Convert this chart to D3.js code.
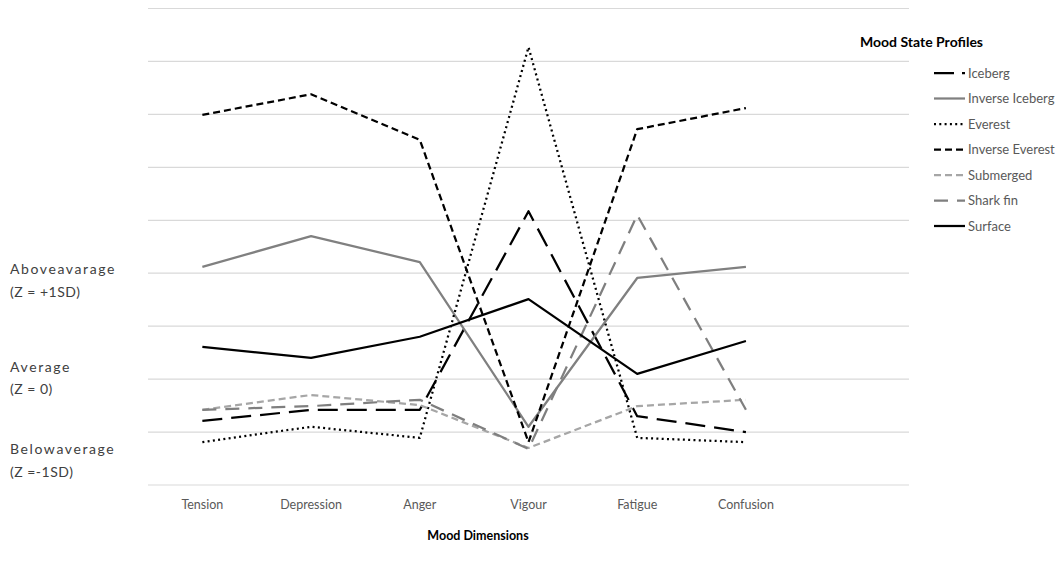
<!DOCTYPE html>
<html>
<head>
<meta charset="utf-8">
<script src="https://cdnjs.cloudflare.com/ajax/libs/d3/7.8.5/d3.min.js"></script>
<style>
  body { margin: 0; background: #fff; }
  text { font-family: Lato, "Open Sans", sans-serif; }
</style>
</head>
<body>
<div id="vis-container"></div>
<script>
// mood dimensions (7th band is left empty, like in the original)
categories = ["Tension", "Depression", "Anger", "Vigour", "Fatigue", "Confusion"]
profileNames = ["Iceberg", "Inverse Iceberg", "Everest", "Inverse Everest", "Submerged", "Shark fin", "Surface"]

// values in gridline units
iceberg        = [1.21, 1.42, 1.42, 5.17, 1.30, 1.00]
inverseIceberg = [4.12, 4.70, 4.21, 1.10, 3.91, 4.12]
everest        = [0.81, 1.10, 0.89, 8.27, 0.89, 0.81]
inverseEverest = [6.99, 7.38, 6.52, 0.81, 6.72, 7.12]
submerged      = [1.42, 1.70, 1.51, 0.70, 1.49, 1.61]
sharkFin       = [1.42, 1.49, 1.61, 0.68, 5.10, 1.42]
surface        = [2.61, 2.40, 2.80, 3.51, 2.10, 2.72]

yLabels = [
  {value: 3.98, lines: ["Aboveavarage", "(Z = +1SD)"]},
  {value: 2.14, lines: ["Average", "(Z = 0)"]},
  {value: 0.58, lines: ["Belowaverage", "(Z =-1SD)"]}
]

chart = {
  "width": 1063, "height": 567,
  "margin": {"top": 8.5, "bottom": 82, "left": 148, "right": 154}
}

styles = [
  {color: "#000000", dash: "20,9"},
  {color: "#808080", dash: null},
  {color: "#000000", dash: "2,3.3"},
  {color: "#000000", dash: "7,4"},
  {color: "#a6a6a6", dash: "7,4"},
  {color: "#7f7f7f", dash: "14,9"},
  {color: "#000000", dash: null}
]

series = [iceberg, inverseIceberg, everest, inverseEverest, submerged, sharkFin, surface]

svg = d3.select("#vis-container").append("svg").attr("width", chart.width).attr("height", chart.height)

let x = d3.scaleBand().domain(categories.concat(["_blank"])).range([chart.margin.left, chart.width - chart.margin.right])
let y = d3.scaleLinear().domain([0, 9]).range([chart.height - chart.margin.bottom, chart.margin.top])

// gridlines
svg.append("g").selectAll("line")
  .data(y.ticks(9))
  .enter()
  .append("line")
  .attr("x1", x.range()[0]).attr("x2", x.range()[1])
  .attr("y1", d => y(d)).attr("y2", d => y(d))
  .attr("stroke", "#d9d9d9")
  .attr("stroke-width", 1.2);

// category labels
svg.append("g").selectAll("text")
  .data(categories)
  .enter()
  .append("text")
  .attr("x", d => x(d) + x.bandwidth() / 2)
  .attr("y", 509)
  .attr("text-anchor", "middle")
  .attr("fill", "#595959")
  .style("font-size", "12.5px")
  .text(d => d);

svg.append("text")
  .attr("x", 478).attr("y", 540)
  .attr("text-anchor", "middle")
  .style("font-size", "12.5px").style("font-weight", "bold")
  .attr("fill", "#000")
  .text("Mood Dimensions");

// left labels
yLabels.forEach(function(l){
  let t = svg.append("text").attr("x", 10).attr("y", y(l.value)).attr("fill", "#404040").style("font-size", "14px");
  l.lines.forEach(function(s, i){
    t.append("tspan").attr("x", 10).attr("dy", i == 0 ? 0 : 22.5)
      .style("letter-spacing", i == 0 ? "1.6px" : "0.5px")
      .text(s);
  });
});

line = d3.line().x((d, i) => x(categories[i]) + x.bandwidth() / 2).y(d => y(d));

svg.append("g").selectAll("path")
  .data(series)
  .enter()
  .append("path")
  .attr("d", d => line(d))
  .attr("fill", "none")
  .attr("stroke", (d, i) => styles[i].color)
  .attr("stroke-width", 2.25)
  .attr("stroke-dasharray", (d, i) => styles[i].dash)
  .attr("stroke-linejoin", "round");

// legend
let legend = svg.append("g").attr("transform", "translate(934,0)")
legend.append("text")
  .attr("x", -74).attr("y", 47)
  .style("font-size", "14px").style("font-weight", "bold")
  .attr("fill", "#000")
  .text("Mood State Profiles");

let items = legend.selectAll(".legend-item")
  .data(profileNames)
  .enter()
  .append("g")
  .attr("class", "legend-item")
  .attr("transform", (d, i) => "translate(0," + (73 + i * 25.5) + ")");

items.append("line")
  .attr("x1", 0).attr("x2", 31)
  .attr("stroke", (d, i) => styles[i].color)
  .attr("stroke-width", 2.25)
  .attr("stroke-dasharray", (d, i) => i == 0 ? "20,8" : styles[i].dash);

items.append("text")
  .attr("x", 34).attr("y", 4.5)
  .attr("fill", "#595959")
  .style("font-size", "13px")
  .text(d => d);
</script>
</body>
</html>
